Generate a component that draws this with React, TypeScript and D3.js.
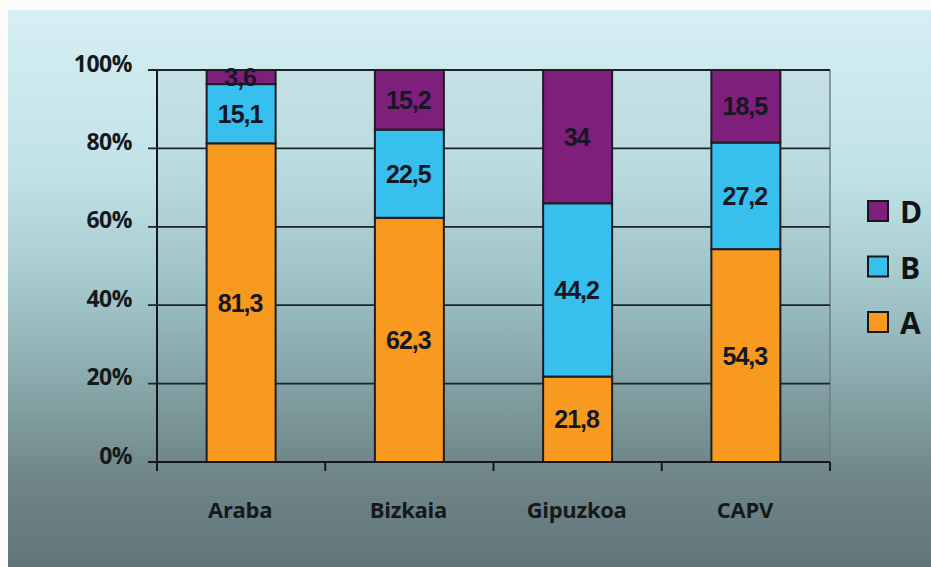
import React, { useEffect, useRef } from 'react';
import * as d3 from 'd3';

const categories = ['Araba', 'Bizkaia', 'Gipuzkoa', 'CAPV'];
const seriesKeys = ['A', 'B', 'D'];
const valuesA = [81.3, 62.3, 21.8, 54.3];
const valuesB = [15.1, 22.5, 44.2, 27.2];
const valuesD = [3.6, 15.2, 34, 18.5];
const yTicks = [0, 20, 40, 60, 80, 100];
const legendOrder = ['D', 'B', 'A'];

const colors: Record<string, string> = {
  A: '#f89a1f',
  B: '#37c0ee',
  D: '#7d1f7b',
};

export default function App() {
  const svgRef = useRef<SVGSVGElement>(null);

  useEffect(() => {
    if (!svgRef.current) return;
    const svg = d3.select(svgRef.current);
    svg.selectAll('*').remove();

    const W = 931;
    const H = 567;
    const plot = { left: 157, right: 830, top: 70, bottom: 462 };

    // background gradient
    const defs = svg.append('defs');
    const grad = defs
      .append('linearGradient')
      .attr('id', 'bg')
      .attr('x1', 0)
      .attr('y1', 0)
      .attr('x2', 0)
      .attr('y2', 1);
    [
      [0, '#d6eff4'],
      [0.3, '#c0e2e7'],
      [0.5, '#a3c8cc'],
      [0.68, '#88a6a9'],
      [0.85, '#6e8487'],
      [1, '#61767a'],
    ].forEach(([o, c]) => grad.append('stop').attr('offset', o as number).attr('stop-color', c as string));

    svg.append('rect').attr('width', W).attr('height', H).attr('fill', '#fdfcfa');
    svg.append('rect').attr('x', 8).attr('y', 10).attr('width', W - 8).attr('height', H - 10).attr('fill', 'url(#bg)');

    const x = d3
      .scaleBand()
      .domain(categories)
      .range([plot.left, plot.right])
      .paddingInner(0.59)
      .paddingOuter(0.295);

    const y = d3.scaleLinear().domain([0, 100]).range([plot.bottom, plot.top]);

    // plot area (slightly darker)
    svg
      .append('rect')
      .attr('x', plot.left)
      .attr('y', plot.top)
      .attr('width', plot.right - plot.left)
      .attr('height', plot.bottom - plot.top)
      .attr('fill', 'rgba(0,20,30,0.04)');
    svg
      .append('line')
      .attr('x1', plot.right)
      .attr('x2', plot.right)
      .attr('y1', plot.top)
      .attr('y2', plot.bottom)
      .attr('stroke', '#6f7f84')
      .attr('stroke-width', 1.5);

    // grid lines + y ticks
    svg
      .append('g')
      .selectAll('line')
      .data(yTicks)
      .enter()
      .append('line')
      .attr('x1', plot.left - 9)
      .attr('x2', plot.right)
      .attr('y1', (d) => y(d))
      .attr('y2', (d) => y(d))
      .attr('stroke', '#1e2326')
      .attr('stroke-width', 1.8);

    svg
      .append('g')
      .selectAll('text')
      .data(yTicks)
      .enter()
      .append('text')
      .attr('x', 132)
      .attr('y', (d) => y(d) + 1.5)
      .attr('text-anchor', 'end')
      .style('font-family', '"Open Sans", sans-serif')
      .style('font-weight', 700)
      .style('font-size', '23px')
      .style('letter-spacing', '-0.5px')
      .style('fill', '#16191b')
      .text((d) => `${d}%`);

    // stacked data
    const table = categories.map((c, i) => ({ cat: c, A: valuesA[i], B: valuesB[i], D: valuesD[i] }));
    const stack = d3.stack<any>().keys(seriesKeys)(table);

    const layers = svg
      .append('g')
      .selectAll('g')
      .data(stack)
      .enter()
      .append('g')
      .attr('fill', (s) => colors[s.key]);

    layers
      .selectAll('rect')
      .data((s) => s)
      .enter()
      .append('rect')
      .attr('x', (d: any) => x(d.data.cat)!)
      .attr('y', (d) => y(d[1]))
      .attr('width', x.bandwidth())
      .attr('height', (d) => y(d[0]) - y(d[1]))
      .attr('stroke', '#1c1c22')
      .attr('stroke-width', 2);

    // value labels
    stack.forEach((s) => {
      svg
        .append('g')
        .selectAll('text')
        .data(s)
        .enter()
        .append('text')
        .attr('x', (d: any) => x(d.data.cat)! + x.bandwidth() / 2 - 1)
        .attr('y', (d) => (y(d[0]) + y(d[1])) / 2)
        .attr('dy', '0.36em')
        .attr('text-anchor', 'middle')
        .style('font-family', '"Liberation Sans", Arial, sans-serif')
        .style('font-weight', 700)
        .style('font-size', '25px')
        .style('letter-spacing', '-1px')
        .style('fill', '#151822')
        .text((d: any) => String(d.data[s.key]).replace('.', ','));
    });

    // axes lines
    svg
      .append('line')
      .attr('x1', plot.left)
      .attr('x2', plot.left)
      .attr('y1', plot.top)
      .attr('y2', plot.bottom + 9)
      .attr('stroke', '#15181a')
      .attr('stroke-width', 2);
    svg
      .append('line')
      .attr('x1', plot.left - 9)
      .attr('x2', plot.right)
      .attr('y1', plot.bottom)
      .attr('y2', plot.bottom)
      .attr('stroke', '#15181a')
      .attr('stroke-width', 2);

    const boundaries = categories.map((c) => x(c)! - (x.step() * 0.59) / 2).concat([plot.right]);
    svg
      .append('g')
      .selectAll('line')
      .data(boundaries)
      .enter()
      .append('line')
      .attr('x1', (d) => d)
      .attr('x2', (d) => d)
      .attr('y1', plot.bottom)
      .attr('y2', plot.bottom + 9)
      .attr('stroke', '#15181a')
      .attr('stroke-width', 2);

    svg
      .append('g')
      .selectAll('text')
      .data(categories)
      .enter()
      .append('text')
      .attr('x', (d) => x(d)! + x.bandwidth() / 2 - 1)
      .attr('y', 518)
      .attr('text-anchor', 'middle')
      .style('font-family', '"Open Sans", sans-serif')
      .style('font-weight', 700)
      .style('font-size', '22px')
      .style('letter-spacing', '-0.3px')
      .style('fill', '#16191b')
      .text((d) => d);

    // legend
    const legend = svg
      .append('g')
      .selectAll('g')
      .data(legendOrder)
      .enter()
      .append('g')
      .attr('transform', (d, i) => `translate(868, ${201 + i * 55.5})`);
    legend
      .append('rect')
      .attr('width', 20)
      .attr('height', 20)
      .attr('fill', (d) => colors[d])
      .attr('stroke', '#15181a')
      .attr('stroke-width', 2);
    legend
      .append('text')
      .attr('x', 32)
      .attr('y', 22)
      .style('font-family', '"Open Sans", sans-serif')
      .style('font-weight', 700)
      .style('font-size', '30px')
      .style('fill', '#111416')
      .text((d) => d);
  }, []);

  return (
    <svg
      ref={svgRef}
      width={931}
      height={567}
      style={{ position: 'fixed', left: 0, top: 0, display: 'block' }}
    />
  );
}
